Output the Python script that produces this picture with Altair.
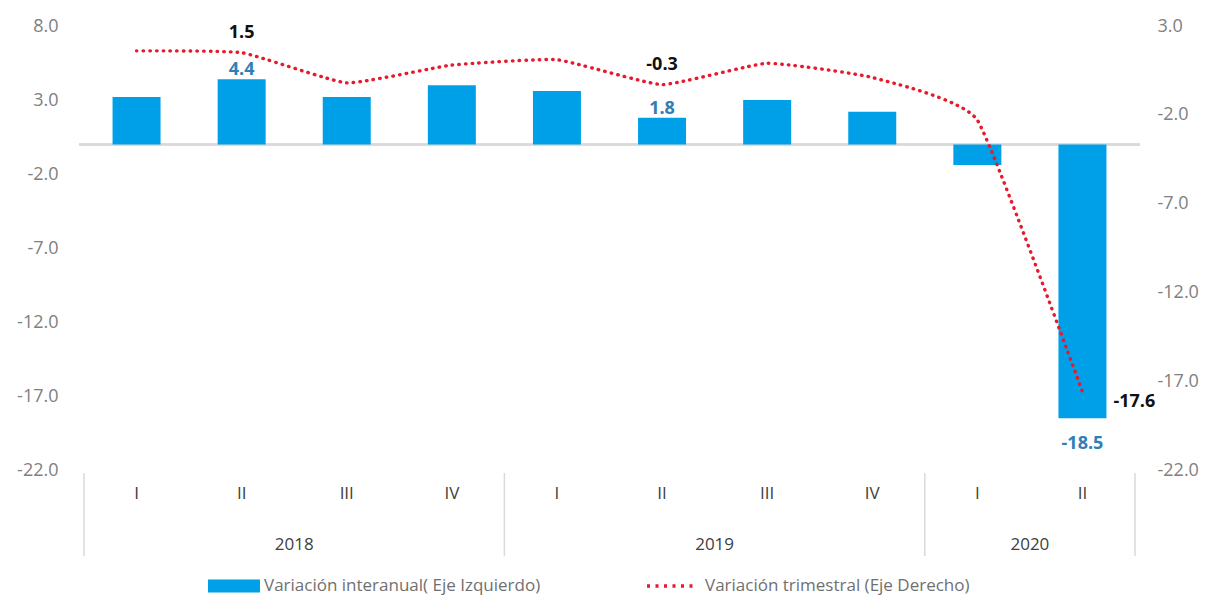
import altair as alt
import pandas as pd

quarters = ["I", "II", "III", "IV", "I", "II", "III", "IV", "I", "II"]
years = ["2018", "2018", "2018", "2018", "2019", "2019", "2019", "2019", "2020", "2020"]
interanual = [3.2, 4.4, 3.2, 4.0, 3.6, 1.8, 3.0, 2.2, -1.4, -18.5]
trimestral = [1.6, 1.5, -0.2, 0.8, 1.1, -0.3, 0.9, 0.1, -2.3, -17.6]
labeled = [False, True, False, False, False, True, False, False, False, True]
left_ticks = [8, 3, -2, -7, -12, -17, -22]
right_ticks = [3, -2, -7, -12, -17, -22]
serie_bar = "Variación interanual( Eje Izquierdo)"
serie_line = "Variación trimestral (Eje Derecho)"

df = pd.DataFrame({
    "idx": list(range(len(quarters))),
    "quarter": quarters,
    "year": years,
    "interanual": interanual,
    "trimestral": trimestral,
    "labeled": labeled,
    "sb": serie_bar,
    "sl": serie_line,
})

bounds = []
for i, y in enumerate(years):
    if i == 0 or years[i - 1] != y:
        bounds.append(i - 0.5)
bounds.append(len(years) - 0.5)
sep_df = pd.DataFrame({"b": bounds})

W, H = 1061, 444
FONT = "Open Sans"
BLUE = "#00A0E9"
RED = "#E8192C"
LBLUE = "#2F80B5"
FMT = "replace(format(datum.value, '.1f'), '\u2212', '-')"

xscale = alt.Scale(domain=[-0.5, len(quarters) - 0.5], nice=False, zero=False)
xs = alt.X("idx:Q", scale=xscale, axis=None)
left_scale = alt.Scale(domain=[-22, 8], nice=False)
right_scale = alt.Scale(domain=[-22, 3], nice=False)
left_axis = alt.Axis(values=left_ticks, labelExpr=FMT, domain=False, ticks=False, grid=False,
                     labelColor="#808080", labelFont=FONT, labelFontSize=18, labelPadding=21, title=None)
right_axis = alt.Axis(orient="right", values=right_ticks, labelExpr=FMT, domain=False, ticks=False, grid=False,
                      labelColor="#808080", labelFont=FONT, labelFontSize=18, labelPadding=17, title=None)

base = alt.Chart(df).transform_calculate(
    lab_i="replace(format(datum.interanual, '.1f'), '\u2212', '-')",
    lab_t="replace(format(datum.trimestral, '.1f'), '\u2212', '-')",
)

zero = base.mark_rule(color="#d9d9d9", strokeWidth=1.5).encode(
    y=alt.Y(datum=0, scale=left_scale, axis=left_axis))

bars = base.mark_bar(size=48, orient="vertical").encode(
    x=xs,
    y=alt.Y("interanual:Q", scale=left_scale, axis=left_axis),
    color=alt.Color("sb:N", scale=alt.Scale(range=[BLUE]),
                    legend=alt.Legend(orient="none", legendX=142, legendY=547, title=None,
                                      symbolType="M-2,-0.5H2V0.5H-2Z", symbolSize=676,
                                      symbolStrokeWidth=0, labelOffset=17, labelLimit=600,
                                      labelFont=FONT, labelFontSize=17, labelColor="#707070")),
)

bar_lab_pos = base.transform_filter("datum.labeled && datum.interanual >= 0").mark_text(
    baseline="bottom", dy=0, font=FONT, fontSize=18, fontWeight="bold", color=LBLUE).encode(
    x=xs, y=alt.Y("interanual:Q", scale=left_scale, axis=left_axis), text="lab_i:N")
bar_lab_neg = base.transform_filter("datum.labeled && datum.interanual < 0").mark_text(
    baseline="top", dy=17, font=FONT, fontSize=18, fontWeight="bold", color=LBLUE).encode(
    x=xs, y=alt.Y("interanual:Q", scale=left_scale, axis=left_axis), text="lab_i:N")

qlab = base.mark_text(font=FONT, fontSize=17, color="#404040", baseline="middle").encode(
    x=xs, y=alt.value(H + 24), text="quarter:N")

ylab = alt.Chart(df).transform_aggregate(c="mean(idx)", groupby=["year"]).mark_text(
    font=FONT, fontSize=17, color="#404040", baseline="middle").encode(
    x=alt.X("c:Q", scale=xscale, axis=None), y=alt.value(H + 75), text="year:N")

seps = alt.Chart(sep_df).mark_rule(color="#d9d9d9", strokeWidth=1.5).encode(
    x=alt.X("b:Q", scale=xscale, axis=None), y=alt.value(H + 3), y2=alt.value(H + 86))

left = alt.layer(zero, bars, bar_lab_pos, bar_lab_neg, qlab, ylab, seps)

line = base.mark_line(interpolate="cardinal", tension=0.6, strokeDash=[0.5, 6.2], strokeCap="round", strokeWidth=3.4).encode(
    x=xs,
    y=alt.Y("trimestral:Q", scale=right_scale, axis=right_axis),
    stroke=alt.Stroke("sl:N", scale=alt.Scale(range=[RED]),
                      legend=alt.Legend(orient="none", legendX=566, legendY=533, title=None,
                                        symbolType="stroke", symbolSize=2500, symbolStrokeWidth=3.4,
                                        symbolDash=[3, 5.5], labelOffset=6, labelLimit=600,
                                        labelFont=FONT, labelFontSize=17, labelColor="#707070")),
)

line_lab = base.transform_filter("datum.labeled && datum.idx < 9").mark_text(
    baseline="middle", dy=-20, font=FONT, fontSize=18, fontWeight="bold", color="#111111").encode(
    x=xs, y=alt.Y("trimestral:Q", scale=right_scale, axis=right_axis), text="lab_t:N")
line_lab_last = base.transform_filter("datum.labeled && datum.idx == 9").mark_text(
    baseline="middle", align="left", dx=31, dy=10, font=FONT, fontSize=18, fontWeight="bold", color="#111111").encode(
    x=xs, y=alt.Y("trimestral:Q", scale=right_scale, axis=right_axis), text="lab_t:N")

right = alt.layer(line, line_lab, line_lab_last)

chart = alt.layer(left, right).resolve_scale(y="independent").properties(
    width=W, height=H,
    padding={"left": 71, "top": 18, "right": 66, "bottom": 126},
    autosize=alt.AutoSizeParams(type="none"),
    background="white",
).configure_view(strokeWidth=0)

chart.save("out.html", embed_options={"renderer": "svg", "actions": False})
